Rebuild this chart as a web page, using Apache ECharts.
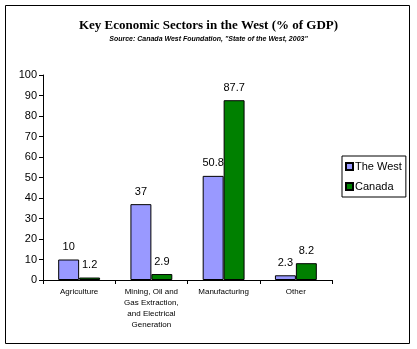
<!DOCTYPE html>
<html>
<head>
<meta charset="utf-8">
<script src="https://cdn.jsdelivr.net/npm/echarts@6/dist/echarts.min.js"></script>
<style>
  html, body { margin: 0; padding: 0; background: #fff; }
  #chart { width: 417px; height: 349px; }
</style>
</head>
<body>
<div id="chart"></div>
<script>
const categories = ['Agriculture', 'Mining, Oil and\nGas Extraction,\nand Electrical\nGeneration', 'Manufacturing', 'Other'];
const westValues = [10, 37, 50.8, 2.3];
const canadaValues = [1.2, 2.9, 87.7, 8.2];
const yTicks = [0, 10, 20, 30, 40, 50, 60, 70, 80, 90, 100];

const chart = echarts.init(document.getElementById('chart'), null, { renderer: 'canvas' });

const labelStyle = {
  show: true,
  position: 'top',
  distance: 7,
  color: '#000',
  fontFamily: 'Liberation Sans, Arial, sans-serif',
  fontSize: 11
};

chart.setOption({
  animation: false,
  backgroundColor: '#fff',
  title: {
    text: 'Key Economic Sectors in the West (% of GDP)',
    subtext: 'Source: Canada West Foundation, "State of the West, 2003"',
    left: 'center',
    top: 14,
    itemGap: 4,
    textStyle: {
      fontFamily: 'Liberation Serif, Times New Roman, serif',
      fontWeight: 'bold',
      fontSize: 13,
      color: '#000'
    },
    subtextStyle: {
      fontFamily: 'Liberation Sans, Arial, sans-serif',
      fontStyle: 'italic',
      fontWeight: 'bold',
      fontSize: 7,
      color: '#000'
    }
  },
  graphic: [{
    type: 'rect',
    shape: { x: 5.5, y: 5.5, width: 404, height: 338 },
    style: { fill: 'none', stroke: '#000', lineWidth: 1 },
    silent: true
  }],
  legend: {
    orient: 'vertical',
    left: 342,
    top: 156,
    padding: [5, 4, 5, 3],
    itemGap: 9,
    itemWidth: 7,
    itemHeight: 7,
    borderColor: '#000',
    borderWidth: 1,
    textStyle: {
      fontFamily: 'Liberation Sans, Arial, sans-serif',
      fontSize: 11,
      color: '#000',
      padding: [0, 0, 0, -3]
    },
    data: [
      { name: 'The West', icon: 'rect' },
      { name: 'Canada', icon: 'rect' }
    ]
  },
  grid: {
    left: 43,
    right: 85,
    top: 75,
    bottom: 69,
    containLabel: false
  },
  xAxis: {
    type: 'category',
    data: categories,
    axisLine: { lineStyle: { color: '#000', width: 1 } },
    axisTick: { show: true, length: 4, inside: false, lineStyle: { color: '#000' } },
    axisLabel: {
      color: '#000',
      fontFamily: 'Liberation Sans, Arial, sans-serif',
      fontSize: 8,
      lineHeight: 11,
      margin: 6,
      interval: 0
    }
  },
  yAxis: {
    type: 'value',
    min: yTicks[0],
    max: yTicks[yTicks.length - 1],
    interval: 10,
    splitLine: { show: false },
    axisLine: { show: true, lineStyle: { color: '#000', width: 1 } },
    axisTick: { show: true, length: 4, lineStyle: { color: '#000' } },
    axisLabel: {
      color: '#000',
      fontFamily: 'Liberation Sans, Arial, sans-serif',
      fontSize: 11,
      margin: 6
    }
  },
  series: [
    {
      name: 'The West',
      type: 'bar',
      data: westValues,
      barGap: '0%',
      barCategoryGap: '42%',
      itemStyle: { color: '#9999FF', borderColor: '#000', borderWidth: 1 },
      label: labelStyle
    },
    {
      name: 'Canada',
      type: 'bar',
      data: canadaValues,
      itemStyle: { color: '#008000', borderColor: '#000', borderWidth: 1 },
      label: labelStyle
    }
  ]
});
</script>
</body>
</html>
